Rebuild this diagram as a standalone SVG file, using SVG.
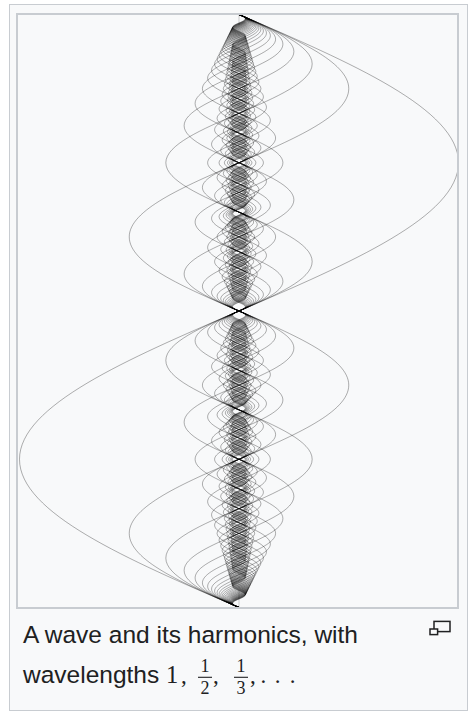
<svg xmlns="http://www.w3.org/2000/svg" xmlns:xlink="http://www.w3.org/1999/xlink" width="472" height="721" viewBox="0 0 472 721">
<style>
.frame{fill:#f8f9fa;stroke:#c8ccd1}
.wave{fill:none;stroke:#000;stroke-opacity:0.45;stroke-linejoin:round}
.cap{font-family:"Liberation Sans",Arial,sans-serif;font-size:24.5px;fill:#202122}
.m{font-family:"Liberation Serif","Times New Roman",serif;fill:#202122}
.icon{fill:#f8f9fa;stroke:#202122;stroke-width:1.5}
</style>
<defs>
<path id="w" class="wave" d="M0,0c112.45,48.35 219.5,94.6 219.5,148.25s-107.05,99.9-219.5,148.25s-219.5,94.6-219.5,148.25s107.05,99.9 219.5,148.25
s219.5,94.6 219.5,148.25s-107.05,99.9-219.5,148.25s-219.5,94.6-219.5,148.25s107.05,99.9 219.5,148.25
s219.5,94.6 219.5,148.25s-107.05,99.9-219.5,148.25s-219.5,94.6-219.5,148.25s107.05,99.9 219.5,148.25
s219.5,94.6 219.5,148.25s-107.05,99.9-219.5,148.25s-219.5,94.6-219.5,148.25s107.05,99.9 219.5,148.25
s219.5,94.6 219.5,148.25s-107.05,99.9-219.5,148.25s-219.5,94.6-219.5,148.25s107.05,99.9 219.5,148.25
s219.5,94.6 219.5,148.25s-107.05,99.9-219.5,148.25s-219.5,94.6-219.5,148.25s107.05,99.9 219.5,148.25
s219.5,94.6 219.5,148.25s-107.05,99.9-219.5,148.25s-219.5,94.6-219.5,148.25s107.05,99.9 219.5,148.25
s219.5,94.6 219.5,148.25s-107.05,99.9-219.5,148.25s-219.5,94.6-219.5,148.25s107.05,99.9 219.5,148.25
s219.5,94.6 219.5,148.25s-107.05,99.9-219.5,148.25s-219.5,94.6-219.5,148.25s107.05,99.9 219.5,148.25
s219.5,94.6 219.5,148.25s-107.05,99.9-219.5,148.25s-219.5,94.6-219.5,148.25s107.05,99.9 219.5,148.25
s219.5,94.6 219.5,148.25s-107.05,99.9-219.5,148.25s-219.5,94.6-219.5,148.25s107.05,99.9 219.5,148.25
s219.5,94.6 219.5,148.25s-107.05,99.9-219.5,148.25s-219.5,94.6-219.5,148.25s107.05,99.9 219.5,148.25
s219.5,94.6 219.5,148.25s-107.05,99.9-219.5,148.25s-219.5,94.6-219.5,148.25s107.05,99.9 219.5,148.25
s219.5,94.6 219.5,148.25s-107.05,99.9-219.5,148.25s-219.5,94.6-219.5,148.25s107.05,99.9 219.5,148.25
s219.5,94.6 219.5,148.25s-107.05,99.9-219.5,148.25s-219.5,94.6-219.5,148.25s107.05,99.9 219.5,148.25
s219.5,94.6 219.5,148.25s-107.05,99.9-219.5,148.25s-219.5,94.6-219.5,148.25s107.05,99.9 219.5,148.25
s219.5,94.6 219.5,148.25s-107.05,99.9-219.5,148.25s-219.5,94.6-219.5,148.25s107.05,99.9 219.5,148.25
s219.5,94.6 219.5,148.25s-107.05,99.9-219.5,148.25s-219.5,94.6-219.5,148.25s107.05,99.9 219.5,148.25
s219.5,94.6 219.5,148.25s-107.05,99.9-219.5,148.25s-219.5,94.6-219.5,148.25s107.05,99.9 219.5,148.25
s219.5,94.6 219.5,148.25s-107.05,99.9-219.5,148.25s-219.5,94.6-219.5,148.25s107.05,99.9 219.5,148.25
s219.5,94.6 219.5,148.25s-107.05,99.9-219.5,148.25s-219.5,94.6-219.5,148.25s107.05,99.9 219.5,148.25
s219.5,94.6 219.5,148.25s-107.05,99.9-219.5,148.25s-219.5,94.6-219.5,148.25s107.05,99.9 219.5,148.25
s219.5,94.6 219.5,148.25s-107.05,99.9-219.5,148.25s-219.5,94.6-219.5,148.25s107.05,99.9 219.5,148.25
s219.5,94.6 219.5,148.25s-107.05,99.9-219.5,148.25s-219.5,94.6-219.5,148.25s107.05,99.9 219.5,148.25
s219.5,94.6 219.5,148.25s-107.05,99.9-219.5,148.25s-219.5,94.6-219.5,148.25s107.05,99.9 219.5,148.25
s219.5,94.6 219.5,148.25s-107.05,99.9-219.5,148.25s-219.5,94.6-219.5,148.25s107.05,99.9 219.5,148.25
s219.5,94.6 219.5,148.25s-107.05,99.9-219.5,148.25s-219.5,94.6-219.5,148.25s107.05,99.9 219.5,148.25
s219.5,94.6 219.5,148.25s-107.05,99.9-219.5,148.25s-219.5,94.6-219.5,148.25s107.05,99.9 219.5,148.25
s219.5,94.6 219.5,148.25s-107.05,99.9-219.5,148.25s-219.5,94.6-219.5,148.25s107.05,99.9 219.5,148.25
s219.5,94.6 219.5,148.25s-107.05,99.9-219.5,148.25s-219.5,94.6-219.5,148.25s107.05,99.9 219.5,148.25
s219.5,94.6 219.5,148.25s-107.05,99.9-219.5,148.25s-219.5,94.6-219.5,148.25s107.05,99.9 219.5,148.25
s219.5,94.6 219.5,148.25s-107.05,99.9-219.5,148.25s-219.5,94.6-219.5,148.25s107.05,99.9 219.5,148.25
s219.5,94.6 219.5,148.25s-107.05,99.9-219.5,148.25s-219.5,94.6-219.5,148.25s107.05,99.9 219.5,148.25
s219.5,94.6 219.5,148.25s-107.05,99.9-219.5,148.25s-219.5,94.6-219.5,148.25s107.05,99.9 219.5,148.25
s219.5,94.6 219.5,148.25s-107.05,99.9-219.5,148.25s-219.5,94.6-219.5,148.25s107.05,99.9 219.5,148.25"/>
<clipPath id="clip"><rect x="0" y="0" width="472" height="607.5"/></clipPath>
</defs>
<rect width="472" height="721" fill="#fff"/>
<rect id="thumb" class="frame" x="9.5" y="4.5" width="458" height="706"/>
<rect id="image-bg" x="17" y="14" width="441" height="594" fill="#f8f9fa"/>
<g id="harmonics" clip-path="url(#clip)">
<g transform="translate(239,14.5)">
<use id="h1" href="#w" xlink:href="#w" stroke-width="0.7"/>
<use id="h2" href="#w" xlink:href="#w" transform="scale(0.5)" stroke-width="1.4"/>
<use id="h3" href="#w" xlink:href="#w" transform="scale(0.333333)" stroke-width="2.1"/>
<use id="h4" href="#w" xlink:href="#w" transform="scale(0.25)" stroke-width="2.8"/>
<use id="h5" href="#w" xlink:href="#w" transform="scale(0.2)" stroke-width="3.5"/>
<use id="h6" href="#w" xlink:href="#w" transform="scale(0.166667)" stroke-width="4.2"/>
<use id="h7" href="#w" xlink:href="#w" transform="scale(0.142857)" stroke-width="4.9"/>
<use id="h8" href="#w" xlink:href="#w" transform="scale(0.125)" stroke-width="5.6"/>
<use id="h9" href="#w" xlink:href="#w" transform="scale(0.111111)" stroke-width="6.3"/>
<use id="h10" href="#w" xlink:href="#w" transform="scale(0.1)" stroke-width="7"/>
<use id="h11" href="#w" xlink:href="#w" transform="scale(0.0909091)" stroke-width="7.7"/>
<use id="h12" href="#w" xlink:href="#w" transform="scale(0.0833333)" stroke-width="8.4"/>
<use id="h13" href="#w" xlink:href="#w" transform="scale(0.0769231)" stroke-width="9.1"/>
<use id="h14" href="#w" xlink:href="#w" transform="scale(0.0714286)" stroke-width="9.8"/>
<use id="h15" href="#w" xlink:href="#w" transform="scale(0.0666667)" stroke-width="10.5"/>
<use id="h16" href="#w" xlink:href="#w" transform="scale(0.0625)" stroke-width="11.2"/>
<use id="h17" href="#w" xlink:href="#w" transform="scale(0.0588235)" stroke-width="11.9"/>
<use id="h18" href="#w" xlink:href="#w" transform="scale(0.0555556)" stroke-width="12.6"/>
<use id="h19" href="#w" xlink:href="#w" transform="scale(0.0526316)" stroke-width="13.3"/>
<use id="h20" href="#w" xlink:href="#w" transform="scale(0.05)" stroke-width="14"/>
<use id="h21" href="#w" xlink:href="#w" transform="scale(0.047619)" stroke-width="14.7"/>
<use id="h22" href="#w" xlink:href="#w" transform="scale(0.0454545)" stroke-width="15.4"/>
<use id="h23" href="#w" xlink:href="#w" transform="scale(0.0434783)" stroke-width="16.1"/>
<use id="h24" href="#w" xlink:href="#w" transform="scale(0.0416667)" stroke-width="16.8"/>
<use id="h25" href="#w" xlink:href="#w" transform="scale(0.04)" stroke-width="17.5"/>
<use id="h26" href="#w" xlink:href="#w" transform="scale(0.0384615)" stroke-width="18.2"/>
<use id="h27" href="#w" xlink:href="#w" transform="scale(0.037037)" stroke-width="18.9"/>
<use id="h28" href="#w" xlink:href="#w" transform="scale(0.0357143)" stroke-width="19.6"/>
<use id="h29" href="#w" xlink:href="#w" transform="scale(0.0344828)" stroke-width="20.3"/>
<use id="h30" href="#w" xlink:href="#w" transform="scale(0.0333333)" stroke-width="21"/>
<use id="h31" href="#w" xlink:href="#w" transform="scale(0.0322581)" stroke-width="21.7"/>
<use id="h32" href="#w" xlink:href="#w" transform="scale(0.03125)" stroke-width="22.4"/>
<use id="h33" href="#w" xlink:href="#w" transform="scale(0.030303)" stroke-width="23.1"/>
<use id="h34" href="#w" xlink:href="#w" transform="scale(0.0294118)" stroke-width="23.8"/>
<use id="h35" href="#w" xlink:href="#w" transform="scale(0.0285714)" stroke-width="24.5"/>
</g>
<path d="M239,14.5V25M239,590V607.5" stroke="#000" stroke-opacity="0.18" stroke-width="1" fill="none"/>
</g>
<rect id="image-border" x="17" y="14" width="441" height="594" fill="none" stroke="#c8ccd1" stroke-width="2"/>
<g id="caption">
<text class="cap" x="23" y="643">A wave and its harmonics, with</text>
<text class="cap" x="23" y="682.7">wavelengths</text>
<text class="m" x="166" y="683" font-size="24.5">1</text>
<text class="m" x="181" y="683" font-size="23">,</text>
<text class="m" x="205" y="672" font-size="18" text-anchor="middle">1</text>
<line x1="198" y1="677.3" x2="212" y2="677.3" stroke="#202122" stroke-width="1.1"/>
<text class="m" x="205" y="694" font-size="18" text-anchor="middle">2</text>
<text class="m" x="213" y="683" font-size="23">,</text>
<text class="m" x="241" y="672" font-size="18" text-anchor="middle">1</text>
<line x1="234" y1="677.3" x2="248" y2="677.3" stroke="#202122" stroke-width="1.1"/>
<text class="m" x="241" y="694" font-size="18" text-anchor="middle">3</text>
<text class="m" x="250" y="683" font-size="23">,</text>
<text class="m" x="263.3" y="683" font-size="23" text-anchor="middle">.</text>
<text class="m" x="277.7" y="683" font-size="23" text-anchor="middle">.</text>
<text class="m" x="292.5" y="683" font-size="23" text-anchor="middle">.</text>
</g>
<g id="enlarge-icon">
<rect class="icon" x="434" y="621.4" width="16" height="10.2"/>
<rect class="icon" x="430" y="629" width="7.6" height="5.6"/>
</g>
</svg>
